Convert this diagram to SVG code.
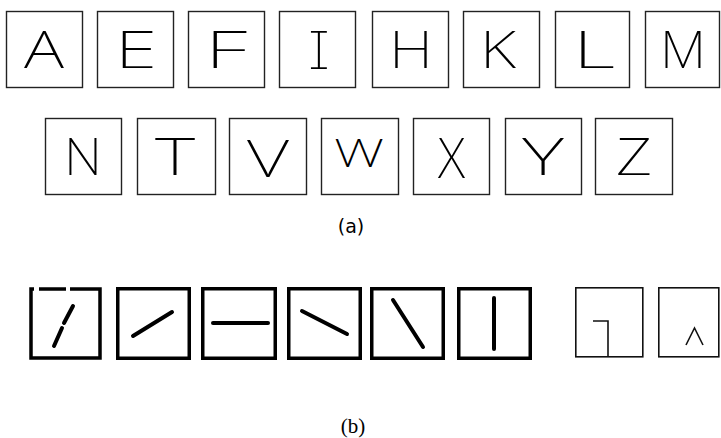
<svg xmlns="http://www.w3.org/2000/svg" width="721" height="438" viewBox="0 0 721 438">
<style>
.bx{fill:none;stroke:#222;stroke-width:1.4}
.tb{fill:none;stroke:#000;stroke-width:3.5}
.ln{fill:none;stroke:#000;stroke-width:4;stroke-linecap:round}
.th{fill:none;stroke:#111;stroke-width:1.6}
.lt{font-family:"Noto Sans","Liberation Sans",sans-serif;font-weight:200;font-size:52px;text-anchor:middle;fill:#000}
.mono{font-family:"Noto Sans Mono","Noto Sans","Liberation Sans",sans-serif}
.cap{font-size:19px;text-anchor:middle;fill:#000}
</style>
<rect width="721" height="438" fill="#fff"/>
<g id="row-a1">
<g id="A"><rect class="bx" x="6.5" y="11.5" width="76" height="76"/><text class="lt" x="44" y="68" textLength="40" lengthAdjust="spacingAndGlyphs">A</text></g>
<g id="E"><rect class="bx" x="97.5" y="11.5" width="76" height="76"/><text class="lt" x="136" y="68" textLength="42" lengthAdjust="spacingAndGlyphs">E</text></g>
<g id="F"><rect class="bx" x="188.5" y="11.5" width="76" height="76"/><text class="lt" x="226" y="68" textLength="42" lengthAdjust="spacingAndGlyphs">F</text></g>
<g id="I"><rect class="bx" x="279.5" y="11.5" width="76" height="76"/><text class="lt mono" x="319" y="69" style="font-size:53px">I</text></g>
<g id="H"><rect class="bx" x="372.5" y="11.5" width="76" height="76"/><text class="lt" x="411" y="68" textLength="44" lengthAdjust="spacingAndGlyphs">H</text></g>
<g id="K"><rect class="bx" x="463.5" y="11.5" width="76" height="76"/><text class="lt" x="498" y="68" textLength="36" lengthAdjust="spacingAndGlyphs">K</text></g>
<g id="L"><rect class="bx" x="555.5" y="11.5" width="74" height="76"/><text class="lt" x="594" y="68" textLength="42" lengthAdjust="spacingAndGlyphs">L</text></g>
<g id="M"><rect class="bx" x="645.5" y="11.5" width="74" height="76"/><text class="lt" x="683" y="68" textLength="46" lengthAdjust="spacingAndGlyphs">M</text></g>
</g>
<g id="row-a2">
<g id="N"><rect class="bx" x="45.5" y="118.5" width="76" height="76"/><text class="lt" x="83" y="175" textLength="38" lengthAdjust="spacingAndGlyphs">N</text></g>
<g id="T"><rect class="bx" x="137.5" y="118.5" width="78" height="76"/><text class="lt" x="175" y="175" textLength="40" lengthAdjust="spacingAndGlyphs">T</text></g>
<g id="V"><rect class="bx" x="229.5" y="118.5" width="77" height="76"/><text class="lt" x="268" y="177" textLength="42" lengthAdjust="spacingAndGlyphs">V</text></g>
<g id="W"><rect class="bx" x="321.5" y="118.5" width="77" height="76"/><text class="lt" x="359" y="167" style="font-size:38px" textLength="50" lengthAdjust="spacingAndGlyphs">W</text></g>
<g id="X"><rect class="bx" x="413.5" y="118.5" width="76" height="76"/><text class="lt" x="451.5" y="178" style="font-size:56px" textLength="27" lengthAdjust="spacingAndGlyphs">X</text></g>
<g id="Y"><rect class="bx" x="505.5" y="118.5" width="76" height="76"/><text class="lt" x="543" y="175" textLength="42" lengthAdjust="spacingAndGlyphs">Y</text></g>
<g id="Z"><rect class="bx" x="595.5" y="118.5" width="77" height="76"/><text class="lt" x="634" y="175" textLength="36" lengthAdjust="spacingAndGlyphs">Z</text></g>
</g>
<text class="cap" x="351" y="233" font-family="DejaVu Sans, sans-serif">(a)</text>
<g id="row-b">
<g id="b1"><path class="tb" d="M31 287.25V358H100V287.25M29.25 289H34M39 289H66M70 289H101.75"/><line class="ln" x1="54" y1="346" x2="62" y2="328"/><line class="ln" x1="64" y1="323" x2="73" y2="306"/></g>
<g id="b2"><rect class="tb" x="117.75" y="288.75" width="71.5" height="69.5"/><line class="ln" x1="133" y1="336" x2="172" y2="312"/></g>
<g id="b3"><rect class="tb" x="202.75" y="288.75" width="72.5" height="69.5"/><line class="ln" x1="213" y1="323" x2="268" y2="323"/></g>
<g id="b4"><rect class="tb" x="288.75" y="288.75" width="71.5" height="69.5"/><line class="ln" x1="302" y1="311" x2="347" y2="334"/></g>
<g id="b5"><rect class="tb" x="371.75" y="288.75" width="71.5" height="69.5"/><line class="ln" x1="393" y1="300" x2="423" y2="347"/></g>
<g id="b6"><rect class="tb" x="458.75" y="288.75" width="71.5" height="69.5"/><line class="ln" x1="494" y1="298" x2="494" y2="349"/></g>
<g id="b7"><rect class="th" x="575.8" y="287.8" width="67" height="69"/><polyline class="th" points="593,321 608,321 608,356.8"/></g>
<g id="b8"><rect class="th" x="658.8" y="287.8" width="60" height="69"/><polyline class="th" points="686,345 694.5,328 703,345"/></g>
</g>
<text class="cap" x="353" y="433" font-family="Liberation Serif, serif" style="font-size:21px">(b)</text>
</svg>
